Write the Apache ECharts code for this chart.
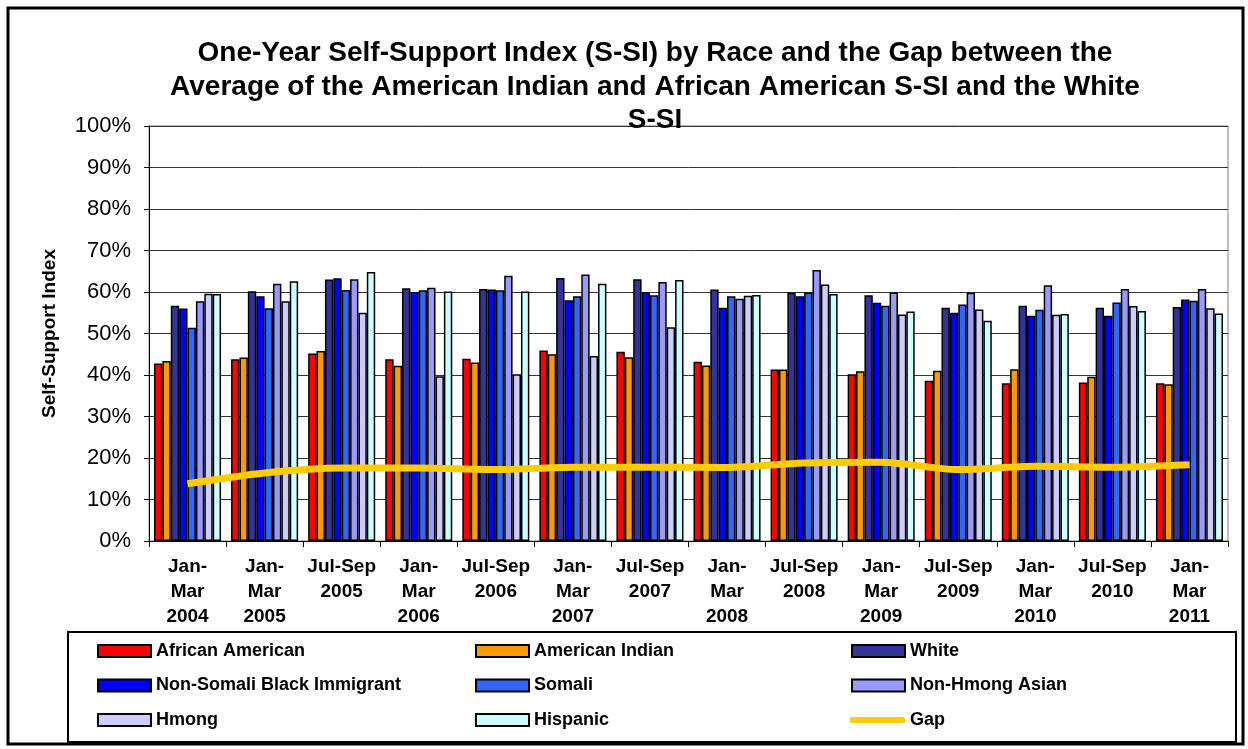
<!DOCTYPE html>
<html>
<head>
<meta charset="utf-8">
<script src="https://cdn.jsdelivr.net/npm/echarts@6/dist/echarts.min.js"></script>
<style>
  html, body { margin: 0; padding: 0; background: #fff; }
  #chart { width: 1248px; height: 749px; }
</style>
</head>
<body>
<div id="chart"></div>
<script>
const categories = ['Jan-\nMar\n2004', 'Jan-\nMar\n2005', 'Jul-Sep\n2005', 'Jan-\nMar\n2006', 'Jul-Sep\n2006',
    'Jan-\nMar\n2007', 'Jul-Sep\n2007', 'Jan-\nMar\n2008', 'Jul-Sep\n2008', 'Jan-\nMar\n2009',
    'Jul-Sep\n2009', 'Jan-\nMar\n2010', 'Jul-Sep\n2010', 'Jan-\nMar\n2011'];

const africanAmerican = [42.8, 43.8, 45.2, 43.8, 43.9, 45.9, 45.6, 43.2, 41.3, 40.2, 38.6, 38.0, 38.2, 38.0];
const americanIndian  = [43.4, 44.2, 45.8, 42.2, 43.0, 45.0, 44.3, 42.3, 41.3, 40.9, 41.0, 41.4, 39.6, 37.8];
const white           = [56.7, 60.2, 63.0, 60.9, 60.7, 63.4, 63.1, 60.6, 59.8, 59.2, 56.2, 56.7, 56.2, 56.4];
const nonSomaliBlack  = [56.0, 59.0, 63.3, 60.0, 60.6, 58.0, 60.0, 56.2, 59.0, 57.4, 55.0, 54.3, 54.3, 58.2];
const somali          = [51.4, 56.1, 60.5, 60.4, 60.4, 59.0, 59.2, 59.0, 59.9, 56.7, 57.0, 55.7, 57.5, 57.9];
const nonHmongAsian   = [57.8, 62.0, 63.1, 61.0, 63.9, 64.2, 62.4, 58.4, 65.3, 59.9, 59.8, 61.6, 60.7, 60.7];
const hmong           = [59.6, 57.8, 55.0, 39.7, 40.2, 44.6, 51.5, 59.1, 61.8, 54.6, 55.8, 54.5, 56.6, 56.1];
const hispanic        = [59.5, 62.6, 64.8, 60.1, 60.1, 62.0, 62.9, 59.3, 59.5, 55.3, 53.1, 54.7, 55.4, 54.8];
const gap             = [13.8, 16.4, 17.6, 17.6, 17.2, 17.8, 17.8, 17.7, 18.8, 19.0, 17.2, 18.0, 17.8, 18.4];

const yTicks = [0, 10, 20, 30, 40, 50, 60, 70, 80, 90, 100];

const font = 'Liberation Sans, Arial, sans-serif';

const barSeries = [
    ['African American', africanAmerican, '#FF0000'],
    ['American Indian', americanIndian, '#FF9900'],
    ['White', white, '#333399'],
    ['Non-Somali Black Immigrant', nonSomaliBlack, '#0000FF'],
    ['Somali', somali, '#3366FF'],
    ['Non-Hmong Asian', nonHmongAsian, '#9999FF'],
    ['Hmong', hmong, '#CCCCFF'],
    ['Hispanic', hispanic, '#CCFFFF']
].map(([name, data, color]) => ({
    name: name,
    type: 'bar',
    data: data,
    barGap: '0%',
    barCategoryGap: '13%',
    itemStyle: { color: color, borderColor: '#000', borderWidth: 1.5 }
}));

const legendText = { fontFamily: font, fontWeight: 'bold', fontSize: 18, color: '#000' };

// one vertical legend per column, like the boxed legend in the picture
const legendCol = (left, names) => ({
    orient: 'vertical',
    left: left,
    top: 642,
    padding: 0,
    height: 104,
    icon: 'rect',
    itemWidth: 53,
    itemHeight: 12,
    itemGap: 16.5,
    itemStyle: { borderColor: '#000', borderWidth: 2 },
    data: names,
    textStyle: legendText
});

const chart = echarts.init(document.getElementById('chart'));
chart.setOption({
    animation: false,
    backgroundColor: '#fff',
    title: {
        text: 'One-Year Self-Support Index (S-SI) by Race and the Gap between the\nAverage of the American Indian and African American S-SI and the White\nS-SI',
        left: 650,
        top: 32,
        textAlign: 'center',
        textStyle: { fontFamily: font, fontWeight: 'bold', fontSize: 28, lineHeight: 33.5, color: '#000' }
    },
    graphic: [
        { type: 'rect', shape: { x: 8, y: 8, width: 1235, height: 736 }, style: { fill: 'none', stroke: '#000', lineWidth: 3 } },
        { type: 'rect', shape: { x: 68, y: 632, width: 1168, height: 110 }, style: { fill: 'none', stroke: '#000', lineWidth: 2 } }
    ],
    legend: [
        legendCol(97, ['African American', 'Non-Somali Black Immigrant', 'Hmong']),
        legendCol(475, ['American Indian', 'Somali', 'Hispanic']),
        legendCol(851, ['White', 'Non-Hmong Asian']),
        {
            left: 850,
            top: 711,
            padding: 0,
            icon: 'roundRect',
            itemWidth: 55,
            itemHeight: 6,
            itemStyle: { borderWidth: 0 },
            data: ['Gap'],
            textStyle: legendText
        }
    ],
    grid: { left: 149, right: 20, top: 126, bottom: 208, show: true, borderColor: '#808080', borderWidth: 1 },
    xAxis: {
        type: 'category',
        data: categories,
        axisLine: { lineStyle: { color: '#000', width: 1 } },
        axisTick: { show: true, length: 6, lineStyle: { color: '#000' } },
        axisLabel: { fontFamily: font, fontWeight: 'bold', fontSize: 19, lineHeight: 25, color: '#000', margin: 13, interval: 0 }
    },
    yAxis: {
        type: 'value',
        min: yTicks[0],
        max: yTicks[yTicks.length - 1],
        interval: 10,
        name: 'Self-Support Index',
        nameLocation: 'middle',
        nameGap: 90,
        nameTextStyle: { fontFamily: font, fontWeight: 'bold', fontSize: 19, color: '#000' },
        axisLine: { show: true, lineStyle: { color: '#000' } },
        axisTick: { show: true, inside: false, length: 5, lineStyle: { color: '#000' } },
        axisLabel: { fontFamily: font, fontSize: 22, color: '#000', formatter: '{value}%', margin: 18 },
        splitLine: { lineStyle: { color: '#333', width: 1 } }
    },
    series: barSeries.concat([{
        name: 'Gap',
        type: 'line',
        data: gap,
        smooth: 0.3,
        symbol: 'none',
        z: 5,
        itemStyle: { color: '#FFCC00' },
        lineStyle: { color: '#FFCC00', width: 7 }
    }])
});
</script>
</body>
</html>
